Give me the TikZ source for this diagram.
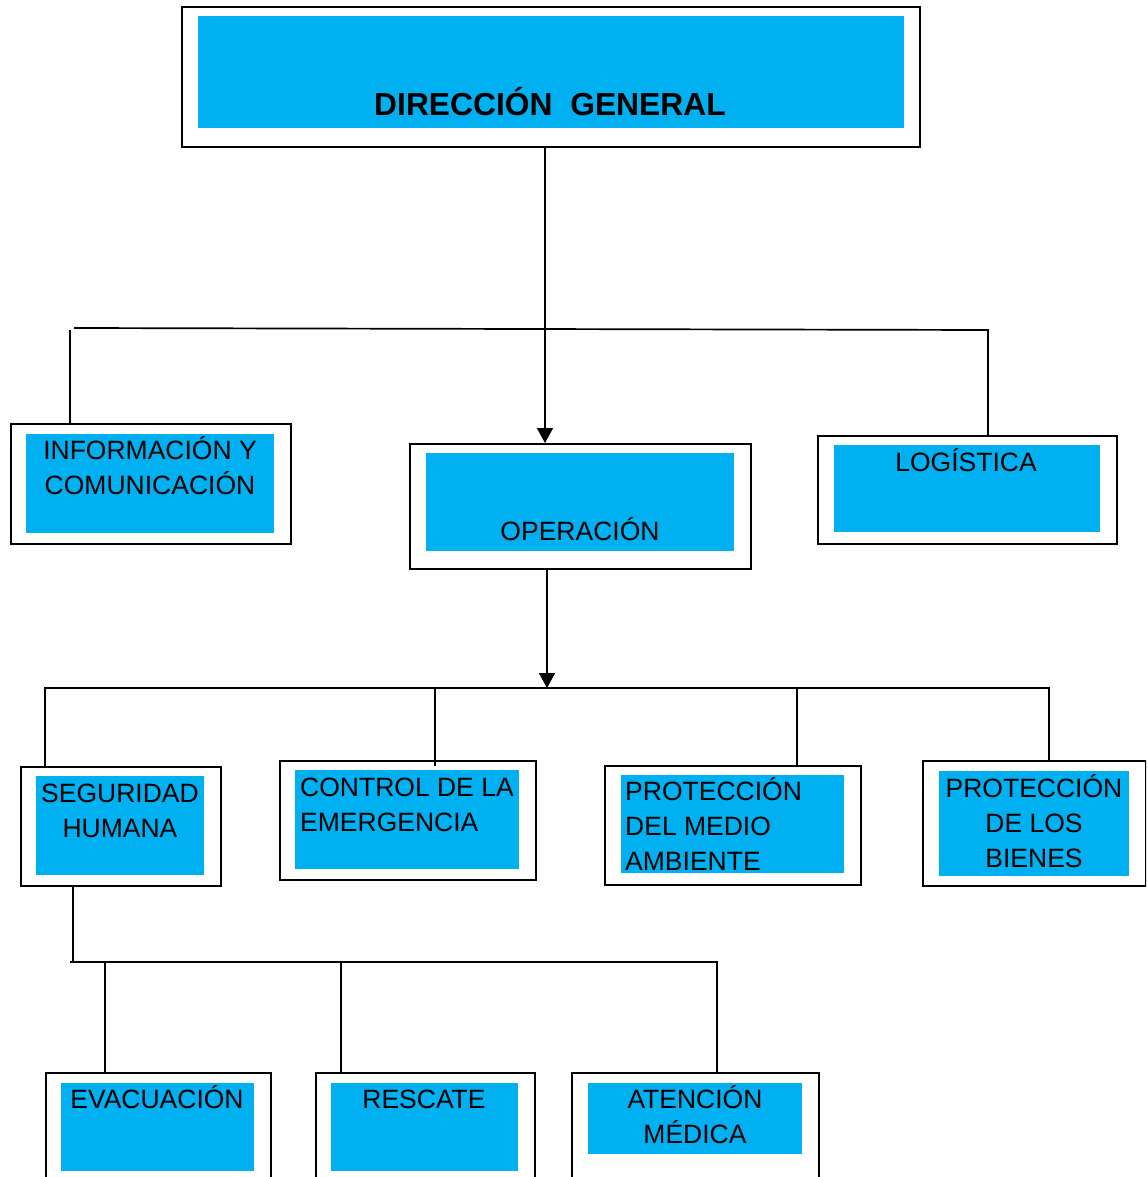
\documentclass[tikz,border=0pt]{standalone}
\usepackage{fontspec}
\setmainfont{Liberation Sans}
\usetikzlibrary{arrows.meta,calc}
\definecolor{boxblue}{HTML}{00B0F0}
\begin{document}
\begin{tikzpicture}[x=1pt,y=-1pt,
  outer/.style={draw=black,line width=1.7pt,fill=white,inner sep=0pt,anchor=north west},
  inner/.style={fill=boxblue,draw=none,inner sep=0pt,anchor=north west},
  lbl/.style={font=\fontsize{26.5}{35}\selectfont,anchor=base,inner sep=0pt,align=center},
  lbll/.style={font=\fontsize{26.5}{35}\selectfont,anchor=base west,inner sep=0pt,align=left},
  conn/.style={line width=1.7pt},
  arr/.style={conn,-{Triangle[length=15pt,width=16pt]}}]
\useasboundingbox (0,0) rectangle (1146,1177);
\clip (0,0) rectangle (1146,1177);
\fill[white] (0,0) rectangle (1146,1177);

% boxes (multi-line labels are placed at the baseline of their last line)
\node[outer,minimum width=738pt,minimum height=140pt] (dg) at (181,6) {};
\node[inner,minimum width=706pt,minimum height=112pt] (dgi) at (198,16) {};
\node[font=\fontsize{31.8}{36}\selectfont\bfseries,anchor=base,inner sep=0pt] (dgt) at (550,116) {DIRECCIÓN\ \ GENERAL};

\node[outer,minimum width=280pt,minimum height=120pt] (info) at (10,423) {};
\node[inner,minimum width=248pt,minimum height=99pt] (infoi) at (26,434) {};
\node[lbl] (infot) at (150,494) {INFORMACIÓN Y\\COMUNICACIÓN};

\node[outer,minimum width=341pt,minimum height=125pt] (op) at (409,443) {};
\node[inner,minimum width=308pt,minimum height=98pt] (opi) at (426,453) {};
\node[lbl] (opt) at (580,540) {OPERACIÓN};

\node[outer,minimum width=299pt,minimum height=108pt] (log) at (817,435) {};
\node[inner,minimum width=266pt,minimum height=87pt] (logi) at (834,445) {};
\node[lbl] (logt) at (966,471) {LOGÍSTICA};

\node[outer,minimum width=200pt,minimum height=119pt] (seg) at (20,766) {};
\node[inner,minimum width=168pt,minimum height=99pt] (segi) at (36,776) {};
\node[lbl] (segt) at (120,837) {SEGURIDAD\\HUMANA};

\node[outer,minimum width=256pt,minimum height=119pt] (ctl) at (279,760) {};
\node[inner,minimum width=224pt,minimum height=99pt] (ctli) at (295,770) {};
\node[lbll] (ctlt) at (300,831) {CONTROL DE LA\\EMERGENCIA};

\node[outer,minimum width=256pt,minimum height=119pt] (pma) at (604,765) {};
\node[inner,minimum width=223pt,minimum height=98pt] (pmai) at (621,775) {};
\node[lbll] (pmat) at (625,870) {PROTECCIÓN\\DEL MEDIO\\AMBIENTE};

\node[outer,minimum width=223pt,minimum height=125pt] (pbi) at (922,760) {};
\node[inner,minimum width=190pt,minimum height=105pt] (pbii) at (939,771) {};
\node[lbl] (pbit) at (1034,867) {PROTECCIÓN\\DE LOS\\BIENES};

\node[outer,minimum width=225pt,minimum height=150pt] (eva) at (45,1072) {};
\node[inner,minimum width=193pt,minimum height=88pt] (evai) at (61,1083) {};
\node[lbl] (evat) at (157,1108) {EVACUACIÓN};

\node[outer,minimum width=219pt,minimum height=150pt] (res) at (315,1072) {};
\node[inner,minimum width=187pt,minimum height=88pt] (resi) at (331,1083) {};
\node[lbl] (rest) at (424,1108) {RESCATE};

\node[outer,minimum width=247pt,minimum height=150pt] (ate) at (571,1072) {};
\node[inner,minimum width=214pt,minimum height=71pt] (atei) at (588,1083) {};
\node[lbl] (atet) at (695,1143) {ATENCIÓN\\MÉDICA};

% connector coordinates
\coordinate (hub1) at (545,328);
\coordinate (h1l) at (74,328);
\coordinate (h1r) at (988,330);
\coordinate (h1lv) at (70,330);
\coordinate (hub2) at (547,688);
\coordinate (h2l) at (45,688);
\coordinate (h2r) at (1049,688);
\coordinate (c2) at (435,688);
\coordinate (c3) at (797,688);
\coordinate (hub3) at (73,962);
\coordinate (h3l) at (70,962);
\coordinate (h3r) at (717,962);
\coordinate (d1) at (105,962);
\coordinate (d2) at (341,962);

% connectors
\draw[arr] (dg.south -| hub1) -- (hub1 |- op.north);
\draw[conn] (h1l) -- (h1r) -- (h1r |- log.north);
\draw[conn] (h1lv) -- (h1lv |- info.north);

\draw[arr] (op.south -| hub2) -- (hub2);
\draw[conn] (h2l |- seg.north) -- (h2l) -- (h2r) -- (h2r |- pbi.north);
\draw[conn] (c2) -- ($(c2 |- ctl.north)+(0,6)$);
\draw[conn] (c3) -- (c3 |- pma.north);

\draw[conn] (seg.south -| hub3) -- (hub3);
\draw[conn] (h3l) -- (h3r) -- (h3r |- ate.north);
\draw[conn] (d1) -- (d1 |- eva.north);
\draw[conn] (d2) -- (d2 |- res.north);
\end{tikzpicture}
\end{document}
